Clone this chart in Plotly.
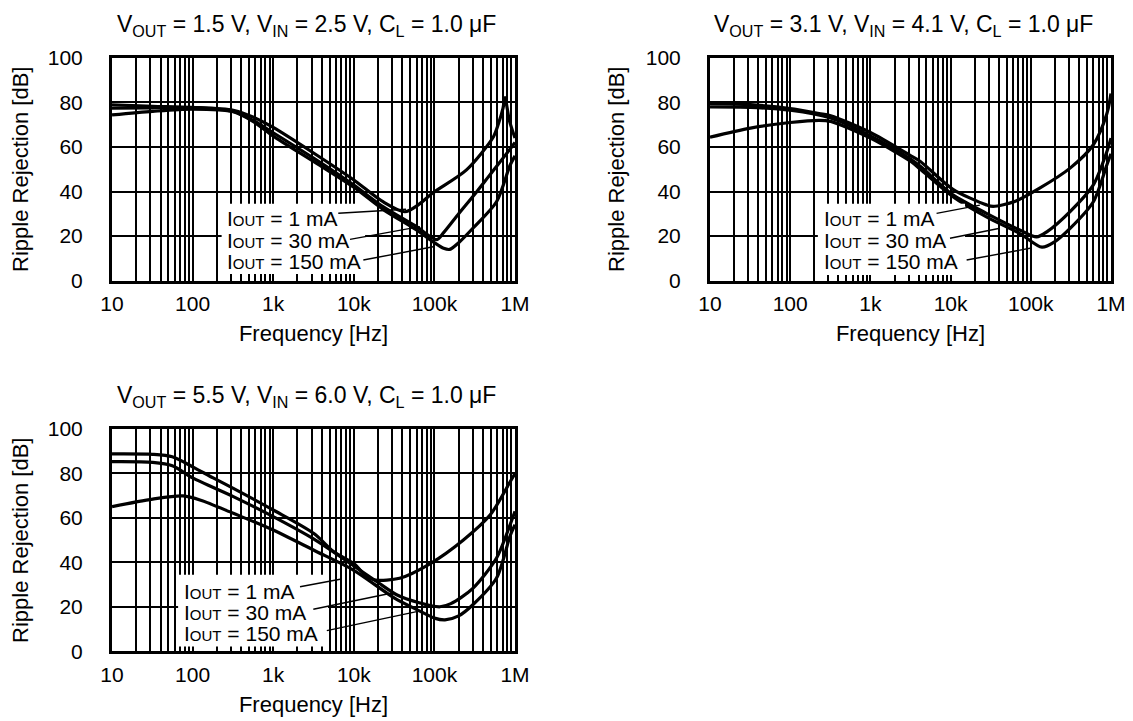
import plotly.graph_objects as go

FONT = "Liberation Sans, Arial, sans-serif"

# ---- data (frequency in Hz, ripple rejection in dB) ----
titles = [
    "V<sub>OUT</sub> = 1.5 V, V<sub>IN</sub> = 2.5 V, C<sub>L</sub> = 1.0 μF",
    "V<sub>OUT</sub> = 3.1 V, V<sub>IN</sub> = 4.1 V, C<sub>L</sub> = 1.0 μF",
    "V<sub>OUT</sub> = 5.5 V, V<sub>IN</sub> = 6.0 V, C<sub>L</sub> = 1.0 μF",
]
series_names = ["1 mA", "30 mA", "150 mA"]

# panel 1: VOUT = 1.5 V
f1_1mA = [10, 32, 100, 320, 560, 1000, 3200, 10000, 23000, 43000, 63000, 95000, 250000, 540000, 630000, 710000, 750000, 850000, 1000000]
db1_1mA = [78.9, 78.3, 77.8, 76.5, 73.5, 68.8, 57.2, 45.2, 35.4, 30.9, 34.0, 39.3, 49.7, 64.6, 71.0, 77.5, 82.2, 72.0, 64.0]
f1_30mA = [10, 32, 100, 320, 560, 1000, 3200, 10000, 23000, 60000, 107000, 130000, 200000, 320000, 500000, 710000, 1000000]
db1_30mA = [77.4, 77.6, 77.6, 76.0, 72.0, 66.4, 54.9, 42.9, 33.2, 24.2, 18.4, 21.5, 30.0, 39.0, 48.0, 55.0, 62.0]
f1_150mA = [10, 32, 100, 320, 560, 1000, 3200, 10000, 23000, 60000, 100000, 130000, 155000, 200000, 300000, 590000, 870000, 1000000]
db1_150mA = [74.4, 76.0, 77.0, 75.8, 71.5, 64.9, 53.4, 41.9, 32.0, 22.7, 17.0, 14.5, 14.0, 17.0, 23.5, 35.4, 51.9, 56.0]

# panel 2: VOUT = 3.1 V
f2_1mA = [10, 32, 100, 230, 320, 1000, 3200, 4200, 10700, 28000, 34000, 63000, 129000, 309000, 603000, 890000, 1000000]
db2_1mA = [79.6, 79.0, 77.3, 75.0, 74.0, 66.5, 56.0, 53.5, 41.0, 34.0, 33.3, 35.5, 41.5, 50.5, 61.0, 75.0, 84.0]
f2_30mA = [10, 32, 100, 320, 1000, 3200, 4200, 10700, 28000, 74000, 118000, 160000, 309000, 603000, 890000, 1000000]
db2_30mA = [78.0, 77.8, 76.5, 73.0, 65.0, 54.5, 51.3, 38.5, 30.2, 22.6, 19.6, 22.0, 31.0, 43.0, 58.0, 64.0]
f2_150mA = [10, 32, 100, 230, 320, 1000, 3200, 4200, 10700, 28000, 74000, 138000, 200000, 309000, 603000, 890000, 1000000]
db2_150mA = [64.4, 68.5, 71.0, 72.0, 71.5, 64.0, 53.5, 50.0, 37.7, 28.6, 21.0, 15.0, 17.5, 23.4, 35.4, 52.0, 57.0]

# panel 3: VOUT = 5.5 V
f3_1mA = [10, 32, 56, 100, 180, 320, 1000, 3200, 5600, 10000, 14500, 18600, 37000, 89000, 229000, 490000, 870000, 1000000]
db3_1mA = [88.8, 88.6, 87.5, 83.0, 78.0, 73.3, 63.6, 53.0, 44.9, 39.5, 33.6, 32.1, 32.9, 39.5, 50.1, 61.3, 76.3, 80.0]
f3_30mA = [10, 32, 56, 100, 320, 1000, 3200, 10000, 20000, 34000, 63000, 117000, 160000, 300000, 590000, 870000, 1000000]
db3_30mA = [85.3, 85.0, 83.5, 78.0, 69.6, 60.6, 50.5, 38.5, 31.0, 25.5, 22.0, 20.1, 21.5, 28.4, 42.0, 57.0, 63.0]
f3_150mA = [10, 32, 76, 126, 320, 1000, 3200, 10000, 32000, 63000, 100000, 135000, 200000, 300000, 590000, 870000, 1000000]
db3_150mA = [65.1, 68.5, 69.9, 68.0, 62.1, 54.6, 45.5, 36.5, 24.0, 18.5, 15.0, 14.2, 16.0, 21.0, 33.0, 52.0, 57.0]

panels = [
    [(f1_1mA, db1_1mA), (f1_30mA, db1_30mA), (f1_150mA, db1_150mA)],
    [(f2_1mA, db2_1mA), (f2_30mA, db2_30mA), (f2_150mA, db2_150mA)],
    [(f3_1mA, db3_1mA), (f3_30mA, db3_30mA), (f3_150mA, db3_150mA)],
]

tick_vals = [10, 100, 1000, 10000, 100000, 1000000]
tick_text = ["10", "100", "1k", "10k", "100k", "1M"]
minor_vals = [m * 10 ** d for d in range(1, 6) for m in range(2, 10)]

# ---- layout geometry (axis domains in paper units, label spots in axis-domain units) ----
# the html page body keeps its default 8px margin, so the domains are pulled up/left by 8px
x_domains = [[0.0918, 0.4475], [0.6196, 0.9735], [0.0918, 0.4475]]
y_domains = [[0.6220, 0.9307], [0.6220, 0.9307], [0.1075, 0.4161]]

# text left edge, text rows, leader lines (x0, y0, x1, y1), white box (x0, x1, y0, y1)
label_left = [0.280, 0.279, 0.173]
label_rows = [[0.280, 0.182, 0.085], [0.280, 0.182, 0.085], [0.269, 0.174, 0.082]]
leaders = [
    [(0.5615, 0.302, 0.7295, 0.320), (0.5906, 0.185, 0.764, 0.242), (0.6236, 0.092, 0.797, 0.152)],
    [(0.565, 0.302, 0.673, 0.339), (0.5985, 0.190, 0.723, 0.235), (0.640, 0.092, 0.798, 0.145)],
    [(0.4665, 0.291, 0.566, 0.3245), (0.4995, 0.190, 0.698, 0.264), (0.533, 0.0935, 0.756, 0.179)],
]
white_boxes = [(0.272, 0.628, 0.029, 0.345), (0.269, 0.636, 0.025, 0.345), (0.164, 0.536, 0.022, 0.345)]

fig = go.Figure()

for i, curves in enumerate(panels):
    n = "" if i == 0 else str(i + 1)
    for (f, db), name in zip(curves, series_names):
        fig.add_trace(go.Scatter(
            x=f, y=db, mode="lines", name=name, showlegend=False,
            line=dict(color="black", width=3.2, shape="spline", smoothing=0.8),
            xaxis="x" + n, yaxis="y" + n,
        ))

    fig.update_layout({
        "xaxis" + n: dict(
            type="log", range=[1, 6], domain=x_domains[i], anchor="y" + n, automargin=False,
            tickvals=tick_vals, ticktext=tick_text, ticks="",
            showgrid=True, gridcolor="black", gridwidth=2,
            minor=dict(tickvals=minor_vals, showgrid=True, gridcolor="black", gridwidth=2, ticks=""),
            showline=True, mirror=True, linecolor="black", linewidth=3,
            tickfont=dict(family=FONT, size=21, color="black"), ticklabelstandoff=2,
            title=dict(text="Frequency [Hz]", font=dict(family=FONT, size=22, color="black"), standoff=12),
        ),
        "yaxis" + n: dict(
            range=[0, 100], dtick=20, domain=y_domains[i], anchor="x" + n, automargin=False,
            ticks="", showgrid=True, gridcolor="black", gridwidth=2, zeroline=False,
            showline=True, mirror=True, linecolor="black", linewidth=3,
            tickfont=dict(family=FONT, size=21, color="black"), ticklabelstandoff=22,
            title=dict(text="Ripple Rejection [dB]", font=dict(family=FONT, size=22, color="black"), standoff=16),
        ),
    })

    # panel title above the frame
    fig.add_annotation(
        text=titles[i], xref="x%s domain" % n, yref="y%s domain" % n, x=0.5, y=1.0,
        xshift=-7, yshift=16, showarrow=False, xanchor="center", yanchor="bottom",
        font=dict(family=FONT, size=23, color="black"),
    )

    # white patch behind the current labels (the curves never pass through it)
    bx0, bx1, by0, by1 = white_boxes[i]
    fig.add_shape(type="rect", xref="x%s domain" % n, yref="y%s domain" % n,
                  x0=bx0, x1=bx1, y0=by0, y1=by1, fillcolor="white", line_width=0, layer="above")

    for name, row, (lx0, ly0, lx1, ly1) in zip(series_names, label_rows[i], leaders[i]):
        fig.add_annotation(
            text="I<span style='font-size:15px'>OUT</span> = " + name,
            xref="x%s domain" % n, yref="y%s domain" % n, x=label_left[i], y=row,
            showarrow=False, xanchor="left", yanchor="middle",
            font=dict(family=FONT, size=21, color="black"),
        )
        fig.add_shape(type="line", xref="x%s domain" % n, yref="y%s domain" % n,
                      x0=lx0, y0=ly0, x1=lx1, y1=ly1, line=dict(color="black", width=1.4))

fig.update_layout(
    width=1133, height=721,
    margin=dict(l=0, r=0, t=0, b=0),
    plot_bgcolor="white", paper_bgcolor="white",
    font=dict(family=FONT, size=21, color="black"),
)

fig.write_html("out.html")
